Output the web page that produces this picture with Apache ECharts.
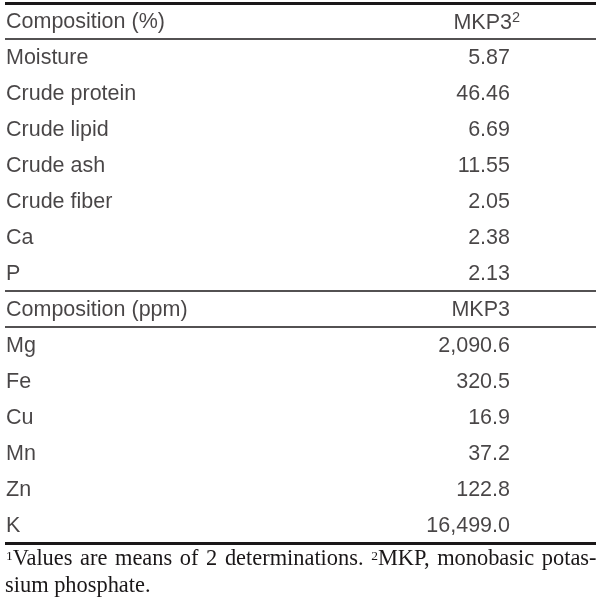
<!DOCTYPE html>
<html>
<head>
<meta charset="utf-8">
<script src="https://cdn.jsdelivr.net/npm/echarts@6/dist/echarts.min.js"></script>
<style>
  html, body { margin: 0; padding: 0; background: #ffffff; }
  #chart { width: 602px; height: 608px; }
</style>
</head>
<body>
<div id="chart"></div>
<script>
// ---- table content ----
const headerPercent = 'Composition (%)';
const headerPpm = 'Composition (ppm)';
const columnHeader = 'MKP3';
const percentItems = ['Moisture', 'Crude protein', 'Crude lipid', 'Crude ash', 'Crude fiber', 'Ca', 'P'];
const percentValues = [5.87, 46.46, 6.69, 11.55, 2.05, 2.38, 2.13];
const ppmItems = ['Mg', 'Fe', 'Cu', 'Mn', 'Zn', 'K'];
const ppmValues = [2090.6, 320.5, 16.9, 37.2, 122.8, 16499.0];
const footLine1 = [['1', 'Values'], ['', 'are'], ['', 'means'], ['', 'of'], ['', '2'], ['', 'determinations.'], ['2', 'MKP,'], ['', 'monobasic'], ['', 'potas-']];
const footLine2 = 'sium phosphate.';

// ---- styling ----
const INK = '#1a1718';
const SANS = '"Liberation Sans", Arial, sans-serif';
const SERIF = '"Liberation Serif", "Times New Roman", serif';
const FS = 21.5;
const COL_LEFT = 1;     // x in axis units (grid starts at 5px)
const COL_RIGHT = 505;

// ---- build rows ----
const rows = [];
rows.push({ left: headerPercent, right: columnHeader, sup: '2' });
percentItems.forEach((n, i) => rows.push({ left: n, right: percentValues[i].toFixed(2) }));
rows.push({ left: headerPpm, right: columnHeader });
ppmItems.forEach((n, i) => rows.push({ left: n, right: ppmValues[i].toLocaleString('en-US', { minimumFractionDigits: 1, maximumFractionDigits: 1 }) }));

const nRows = rows.length;
const rules = [
  { y: -0.5, w: 3 },
  { y: 0.5, w: 1.6 },
  { y: percentItems.length + 0.5, w: 1.6 },
  { y: percentItems.length + 1.5, w: 1.6 },
  { y: nRows - 0.5, w: 3 }
];

const leftData = rows.map((r, i) => ({ value: [COL_LEFT, i], name: r.left }));
const rightData = rows.map((r, i) => {
  const d = { value: [COL_RIGHT, i], name: r.right };
  if (r.sup) {
    d.label = {
      formatter: '{a|' + r.right + '}{s|' + r.sup + '}',
      offset: [10, 1.5]
    };
  }
  return d;
});

// ---- footnote layout (justified first line) ----
const cv = document.createElement('canvas').getContext('2d');
function tw(text, font) { cv.font = font; return cv.measureText(text).width; }
const FOOT_FONT = '22.4px ' + SERIF;
const SUP_FONT = '13.5px ' + SERIF;
const X0 = 6, X1 = 596.5;
const tokens = footLine1.map(([s, w]) => ({ s, w, sw: s ? tw(s, SUP_FONT) : 0, ww: tw(w, FOOT_FONT) }));
const totalW = tokens.reduce((a, t) => a + t.sw + t.ww, 0);
const gap = (X1 - X0 - totalW) / (tokens.length - 1);
const graphics = [];
let cx = X0;
const LINE1_Y = 559.5, LINE2_Y = 586.5;
tokens.forEach(t => {
  if (t.s) {
    graphics.push({ type: 'text', x: cx, y: 549, silent: true,
      style: { text: t.s, font: SUP_FONT, fill: INK, align: 'left', verticalAlign: 'top' } });
    cx += t.sw;
  }
  graphics.push({ type: 'text', x: cx, y: LINE1_Y, silent: true,
    style: { text: t.w, font: FOOT_FONT, fill: INK, align: 'left', verticalAlign: 'middle' } });
  cx += t.ww + gap;
});
graphics.push({ type: 'text', x: 5, y: LINE2_Y, silent: true,
  style: { text: footLine2, font: FOOT_FONT, fill: INK, align: 'left', verticalAlign: 'middle' } });

const chart = echarts.init(document.getElementById('chart'), null, { renderer: 'canvas' });
chart.setOption({
  animation: false,
  backgroundColor: '#ffffff',
  grid: { left: 5, right: 6, top: 3, height: 36 * nRows },
  xAxis: { type: 'value', min: 0, max: 591, show: false, splitLine: { show: false } },
  yAxis: { type: 'value', min: -0.5, max: nRows - 0.5, inverse: true, show: false, splitLine: { show: false } },
  graphic: graphics,
  series: [
    {
      type: 'scatter',
      data: leftData,
      symbolSize: 0,
      silent: true,
      label: {
        show: true, position: [0, 0], align: 'left', verticalAlign: 'middle',
        offset: [0, 1.5],
        formatter: p => p.name, fontFamily: SANS, fontSize: FS, color: INK
      },
      markLine: {
        silent: true,
        symbol: ['none', 'none'],
        label: { show: false },
        data: rules.map(r => ({ yAxis: r.y, lineStyle: { color: INK, width: r.w, type: 'solid' } }))
      }
    },
    {
      type: 'scatter',
      data: rightData,
      symbolSize: 0,
      silent: true,
      label: {
        show: true, position: [0, 0], align: 'right', verticalAlign: 'middle',
        offset: [0, 1.5],
        formatter: p => p.name, fontFamily: SANS, fontSize: FS, color: INK,
        rich: {
          a: { fontFamily: SANS, fontSize: FS, color: INK, lineHeight: 24, verticalAlign: 'bottom' },
          s: { fontFamily: SANS, fontSize: 14.5, color: INK, lineHeight: 24, verticalAlign: 'top' }
        }
      }
    }
  ]
});
</script>
</body>
</html>
